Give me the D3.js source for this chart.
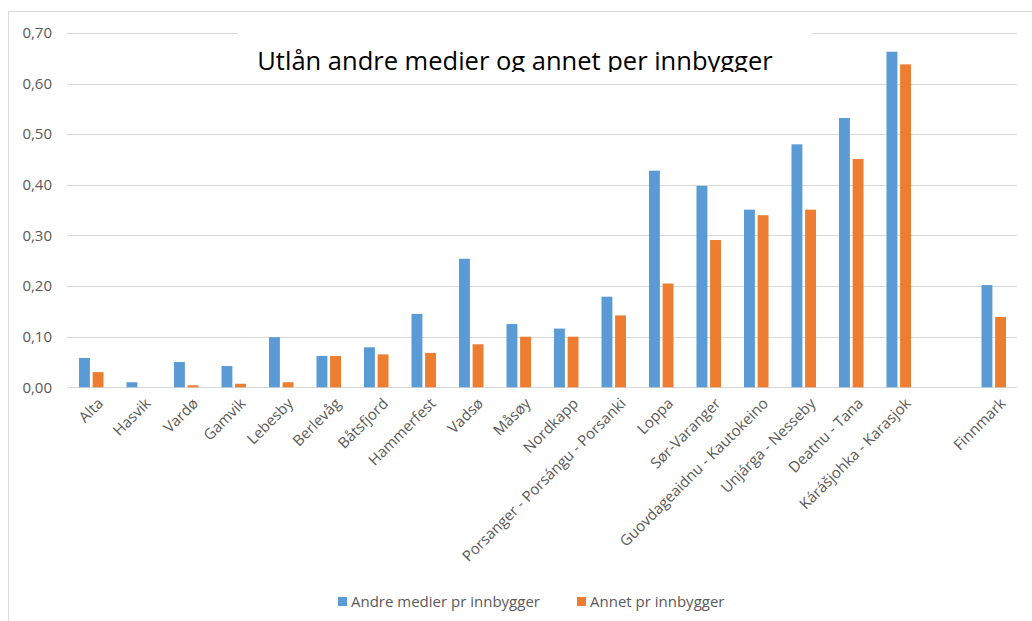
<!DOCTYPE html>
<html>
<head>
<meta charset="utf-8">
<script src="https://cdn.jsdelivr.net/npm/d3@7"></script>
<style>
  body { margin: 0; background: #fff; }
  svg { display: block; font-family: "Open Sans", sans-serif; }
</style>
</head>
<body>
<svg width="1032" height="621"></svg>
<script>
// data
var categories = ["Alta", "Hasvik", "Vardø", "Gamvik", "Lebesby", "Berlevåg", "Båtsfjord",
	"Hammerfest", "Vadsø", "Måsøy", "Nordkapp", "Porsanger - Porsángu - Porsanki", "Loppa",
	"Sør-Varanger", "Guovdageaidnu - Kautokeino", "Unjárga - Nesseby", "Deatnu - Tana",
	"Kárášjohka - Karasjok", "", "Finnmark"];
var andreMedier = [0.058, 0.010, 0.050, 0.042, 0.099, 0.062, 0.079, 0.145, 0.254, 0.125,
	0.116, 0.179, 0.428, 0.398, 0.351, 0.480, 0.532, 0.663, null, 0.202];
var annet = [0.030, 0.000, 0.004, 0.007, 0.010, 0.062, 0.065, 0.068, 0.085, 0.100,
	0.100, 0.142, 0.205, 0.291, 0.340, 0.351, 0.451, 0.638, null, 0.139];
var seriesNames = ["Andre medier pr innbygger", "Annet pr innbygger"];
var yTicks = [0, 0.1, 0.2, 0.3, 0.4, 0.5, 0.6, 0.7];
var title = "Utlån andre medier og annet per innbygger";

var colors = ["#5b9bd5", "#ed7d31"];
var svg = d3.select("svg");

// chart area border (left + top only visible)
svg.append("path")
	.attr("d", "M8.5,621V11.5H1032")
	.attr("fill", "none")
	.attr("stroke", "#d9d9d9");

var plot = { left: 67, right: 1017, top: 33, bottom: 387.3 };

var x = d3.scaleBand()
	.domain(d3.range(categories.length))
	.range([plot.left, plot.right]);

var x1 = d3.scaleBand()
	.domain([0, 1])
	.range([12, 36.5])
	.paddingInner(0.2);

var y = d3.scaleLinear()
	.domain([0, 0.7])
	.range([plot.bottom, plot.top]);

var fmt = function(v) { return d3.format(".2f")(v).replace(".", ","); };

// grid + y labels
var grid = svg.append("g");
grid.selectAll("line")
	.data(yTicks)
	.enter().append("line")
	.attr("x1", plot.left)
	.attr("x2", plot.right)
	.attr("y1", function(d) { return Math.round(y(d)) + 0.5; })
	.attr("y2", function(d) { return Math.round(y(d)) + 0.5; })
	.attr("stroke", "#d9d9d9")
	.attr("stroke-width", 1.2);

grid.selectAll("text")
	.data(yTicks)
	.enter().append("text")
	.attr("x", 52)
	.attr("y", function(d) { return y(d); })
	.attr("dy", "0.35em")
	.attr("text-anchor", "end")
	.attr("fill", "#595959")
	.style("font-size", "15px")
	.text(fmt);

// bars
var rows = categories.map(function(c, i) { return { i: i, vals: [andreMedier[i], annet[i]] }; });

var groups = svg.append("g")
	.selectAll("g")
	.data(rows)
	.enter().append("g")
	.attr("transform", function(d) { return "translate(" + x(d.i) + ",0)"; });

groups.selectAll("rect")
	.data(function(d) { return d.vals.map(function(v, k) { return { k: k, v: v }; }).filter(function(e) { return e.v !== null; }); })
	.enter().append("rect")
	.attr("x", function(d) { return x1(d.k); })
	.attr("width", x1.bandwidth())
	.attr("y", function(d) { return y(d.v); })
	.attr("height", function(d) { return y(0) - y(d.v); })
	.attr("fill", function(d) { return colors[d.k]; });

// x labels, rotated
svg.append("g")
	.selectAll("text")
	.data(categories)
	.enter().append("text")
	.attr("transform", function(d, i) {
		return "translate(" + (x(i) + x.bandwidth() / 2 + 6) + ",397) rotate(-45)";
	})
	.attr("dy", "0.7em")
	.attr("text-anchor", "end")
	.attr("fill", "#595959")
	.style("font-size", "15px")
	.text(function(d) { return d; });

// title with white box, descenders clipped like the original
svg.append("clipPath").attr("id", "tclip")
	.append("rect").attr("x", 238).attr("y", 31).attr("width", 574).attr("height", 41);
svg.append("rect")
	.attr("x", 238).attr("y", 31).attr("width", 574).attr("height", 41)
	.attr("fill", "#fff");
svg.append("text")
	.attr("clip-path", "url(#tclip)")
	.attr("x", 515)
	.attr("y", 70)
	.attr("text-anchor", "middle")
	.attr("fill", "#000")
	.style("font-size", "25.5px")
	.text(title);

// legend
var legendX = [338, 577];
var legend = svg.append("g")
	.selectAll("g")
	.data(seriesNames)
	.enter().append("g")
	.attr("transform", function(d, i) { return "translate(" + legendX[i] + ",597)"; });
legend.append("rect")
	.attr("width", 9).attr("height", 9)
	.attr("fill", function(d, i) { return colors[i]; });
legend.append("text")
	.attr("x", 13)
	.attr("y", 4.5)
	.attr("dy", "0.35em")
	.attr("fill", "#595959")
	.style("font-size", "15px")
	.text(function(d) { return d; });
</script>
</body>
</html>
